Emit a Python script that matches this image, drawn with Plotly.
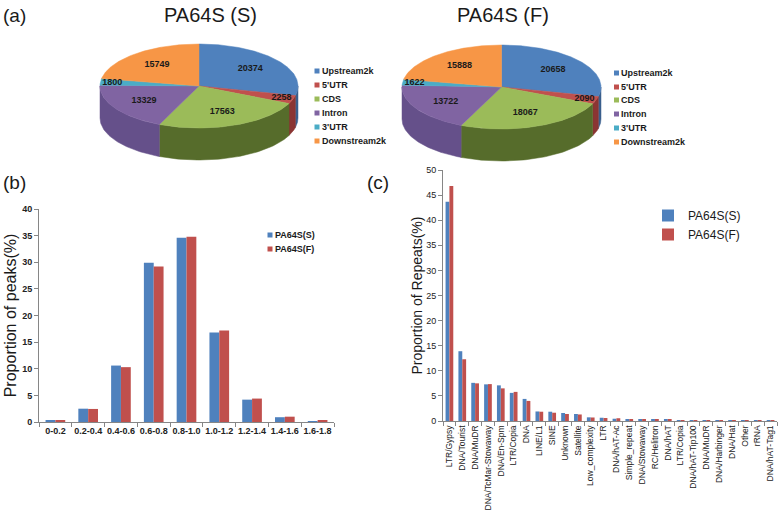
import numpy as np
import plotly.graph_objects as go

# ---------------- data ----------------
pie_labels = ["Upstream2k", "5'UTR", "CDS", "Intron", "3'UTR", "Downstream2k"]
pie_s_values = [20374, 2258, 17563, 13329, 1800, 15749]
pie_f_values = [20658, 2090, 18067, 13722, 1622, 15888]

ratio_bins = ["0-0.2", "0.2-0.4", "0.4-0.6", "0.6-0.8", "0.8-1.0",
              "1.0-1.2", "1.2-1.4", "1.4-1.6", "1.6-1.8"]
peaks_s = [0.3, 2.5, 10.6, 29.9, 34.6, 16.8, 4.2, 0.9, 0.05]
peaks_f = [0.3, 2.45, 10.3, 29.2, 34.8, 17.2, 4.4, 1.0, 0.2]

repeat_classes = ["LTR/Gypsy", "DNA/Tourist", "DNA/MuDR", "DNA/TcMar-Stowaway",
                  "DNA/En-Spm", "LTR/Copia", "DNA", "LINE/L1", "SINE", "Unknown",
                  "Satellite", "Low_complexity", "LTR", "DNA/hAT-Ac", "Simple_repeat",
                  "DNA/Stowaway", "RC/Helitron", "DNA/hAT", "LTR/Copia",
                  "DNA/hAT-Tip100", "DNA/MuDR", "DNA/Harbinger", "DNA/Hat", "Other",
                  "rRNA", "DNA/hAT-Tag1"]
repeats_s = [43.7, 13.9, 7.6, 7.3, 7.1, 5.6, 4.4, 1.9, 1.85, 1.6, 1.4, 0.73, 0.65,
             0.45, 0.35, 0.3, 0.3, 0.25, 0.2, 0.15, 0.1, 0.1, 0.1, 0.05, 0.03, 0.02]
repeats_f = [46.8, 12.3, 7.5, 7.35, 6.5, 5.8, 4.0, 1.85, 1.65, 1.4, 1.3, 0.7, 0.6,
             0.55, 0.35, 0.3, 0.25, 0.25, 0.2, 0.15, 0.1, 0.1, 0.08, 0.05, 0.03, 0.02]

series_names = ["PA64S(S)", "PA64S(F)"]

# ---------------- styles ----------------
W, H = 778, 518
FONT = "Arial, Liberation Sans, sans-serif"
top_colors = ["#4F81BD", "#C0504D", "#9BBB59", "#8064A2", "#4BACC6", "#F79646"]
side_colors = ["#3A5F8C", "#8B3533", "#566C2B", "#65508A", "#3A8598", "#B86E2F"]
bar_colors = ["#4F81BD", "#C0504D"]
AX = "#868686"
TXT = "#1a1a1a"

fig = go.Figure()


def pie3d(values, cx, cy, rx, ry, depth):
    total = float(sum(values))
    fr = np.array(values) / total
    cum = np.concatenate([[0], np.cumsum(fr)]) * 360.0
    sides, tops, labels = [], [], []
    for i in range(len(values)):
        a0, a1 = cum[i], cum[i + 1]
        # side wall (front half: 90..270 deg clockwise from top)
        s0, s1 = max(a0, 90.0), min(a1, 270.0)
        if s0 < s1:
            t = np.radians(np.linspace(s0, s1, 60))
            xs = cx + rx * np.sin(t)
            ys = cy - ry * np.cos(t)
            px = np.concatenate([xs, xs[::-1], xs[:1]])
            py = np.concatenate([ys, ys[::-1] + depth, ys[:1]])
            sides.append(go.Scatter(x=px, y=py, xaxis="x3", yaxis="y3", mode="lines",
                                    fill="toself", fillcolor=side_colors[i],
                                    line=dict(color=side_colors[i], width=0.5),
                                    hoverinfo="skip", showlegend=False))
        t = np.radians(np.linspace(a0, a1, max(8, int((a1 - a0) * 1.5))))
        xs = np.concatenate([[cx], cx + rx * np.sin(t), [cx]])
        ys = np.concatenate([[cy], cy - ry * np.cos(t), [cy]])
        tops.append(go.Scatter(x=xs, y=ys, xaxis="x3", yaxis="y3", mode="lines",
                               fill="toself", fillcolor=top_colors[i],
                               line=dict(color=top_colors[i], width=0.5),
                               name=pie_labels[i], text=str(values[i]),
                               hoverinfo="name+text", showlegend=False))
        mid = np.radians((a0 + a1) / 2)
        r = 0.88 if fr[i] < 0.05 else 0.66
        labels.append((cx + r * rx * np.sin(mid), cy - r * ry * np.cos(mid), str(values[i])))
    for s in sides:
        fig.add_trace(s)
    for tr in tops:
        fig.add_trace(tr)
    fig.add_trace(go.Scatter(x=[l[0] for l in labels], y=[l[1] for l in labels],
                             text=[l[2] for l in labels], mode="text",
                             textfont=dict(family=FONT, size=9, color=TXT, weight="bold"),
                             xaxis="x3", yaxis="y3", hoverinfo="skip", showlegend=False))


pie3d(pie_s_values, 199, 86, 99, 42, 32)
pie3d(pie_f_values, 501.5, 87, 99.5, 42, 32)

# ---------------- bars (b) ----------------
for vals, name, col in zip([peaks_s, peaks_f], series_names, bar_colors):
    fig.add_trace(go.Bar(x=ratio_bins, y=vals, name=name, marker_color=col,
                         marker_line_width=0, xaxis="x", yaxis="y", showlegend=False))

# ---------------- bars (c) ----------------
xc = list(range(len(repeat_classes)))
for vals, name, col in zip([repeats_s, repeats_f], series_names, bar_colors):
    fig.add_trace(go.Bar(x=xc, y=vals, name=name, marker_color=col,
                         marker_line_width=0, xaxis="x2", yaxis="y2",
                         hovertext=repeat_classes, legend="legend2"))

# ---------------- manual legends (pies + b) ----------------
ann = []


def manual_legend(names, colors, mx, tx, ys, size):
    for n, c, yy in zip(names, colors, ys):
        fig.add_trace(go.Scatter(x=[mx], y=[yy], mode="markers", xaxis="x3", yaxis="y3",
                                 marker=dict(symbol="square", size=size, color=c),
                                 hoverinfo="skip", showlegend=False))
        ann.append(dict(x=tx, y=yy, xref="x3", yref="y3", text=n, showarrow=False,
                        xanchor="left", yanchor="middle",
                        font=dict(family=FONT, size=9, color=TXT, weight="bold")))


manual_legend(pie_labels, top_colors, 317, 320, [71, 85, 99, 113, 127, 141], 5)
manual_legend(pie_labels, top_colors, 616.5, 619, [73, 87, 100, 114, 128, 142], 5)
manual_legend(series_names, bar_colors, 270, 273, [235, 249], 5)

# titles & panel letters
ann += [
    dict(x=210, y=15, text="PA64S (S)", font=dict(family=FONT, size=20, color=TXT)),
    dict(x=503, y=15, text="PA64S (F)", font=dict(family=FONT, size=20, color=TXT)),
    dict(x=0.5, y=15, text="(a)", xanchor="left", font=dict(family=FONT, size=19, color=TXT)),
    dict(x=0.5, y=182, text="(b)", xanchor="left", font=dict(family=FONT, size=19, color=TXT)),
    dict(x=378, y=182, text="(c)", font=dict(family=FONT, size=19, color=TXT)),
]
for a in ann:
    a.setdefault("xref", "x3")
    a.setdefault("yref", "y3")
    a.setdefault("showarrow", False)
    a.setdefault("yanchor", "middle")

tickfont_b = dict(family=FONT, size=9, color="#222", weight="bold")
tickfont_c = dict(family=FONT, size=9, color="#222")

fig.update_layout(
    template="none",
    width=W, height=H, margin=dict(l=0, r=0, t=0, b=0, pad=0),
    paper_bgcolor="white", plot_bgcolor="rgba(0,0,0,0)",
    barmode="group", bargap=0.4, bargroupgap=0,
    font=dict(family=FONT, color=TXT),
    annotations=ann,
    showlegend=True,
    xaxis=dict(domain=[39 / W, 334 / W], anchor="y", type="category", automargin=False,
               showline=True, linecolor=AX, linewidth=1, ticks="outside",
               tickson="boundaries", ticklen=4, tickcolor=AX, tickfont=tickfont_b,
               tickangle=0, showgrid=False, zeroline=False, fixedrange=True),
    yaxis=dict(domain=[(H - 422) / H, (H - 209) / H], anchor="x", range=[0, 40],
               automargin=False,
               dtick=5, showline=True, linecolor=AX, ticks="outside", ticklen=4,
               tickcolor=AX, tickfont=tickfont_b, showgrid=False, zeroline=False,
               title=dict(text="Proportion of peaks(%)", standoff=1,
                          font=dict(family=FONT, size=16, color=TXT)),
               fixedrange=True),
    xaxis2=dict(domain=[443 / W, 777 / W], anchor="y2", range=[-0.5, len(xc) - 0.5],
                automargin=False,
                tickmode="array", tickvals=xc, ticktext=repeat_classes, tickangle=-90,
                ticks="", showline=True, linecolor=AX,
                tickfont=dict(family=FONT, size=8.5, color="#222"),
                minor=dict(ticks="outside", tick0=-0.5, dtick=1, ticklen=4, tickcolor=AX),
                showgrid=False, zeroline=False, fixedrange=True),
    yaxis2=dict(domain=[(H - 421) / H, (H - 170) / H], anchor="x2", range=[0, 50],
                automargin=False,
                dtick=5, showline=True, linecolor=AX, ticks="outside", ticklen=4,
                tickcolor=AX, tickfont=tickfont_c, showgrid=False, zeroline=False,
                title=dict(text="Proportion of Repeats(%)", standoff=0,
                           font=dict(family=FONT, size=14, color=TXT)),
                fixedrange=True),
    xaxis3=dict(domain=[0, 1], range=[0, W], visible=False, fixedrange=True, anchor="y3",
                automargin=False),
    yaxis3=dict(domain=[0, 1], range=[H, 0], visible=False, fixedrange=True, anchor="x3",
                automargin=False),
    legend2=dict(x=648 / W, y=1 - 201 / H, xanchor="left", yanchor="top",
                 font=dict(family=FONT, size=12, color=TXT), itemwidth=30,
                 bgcolor="rgba(0,0,0,0)", borderwidth=0),
)

fig.write_html(
    "out.html",
    config={"displayModeBar": False},
    post_script="document.body.style.margin='0';document.body.style.padding='0';"
                "document.body.style.overflow='hidden';",
)
